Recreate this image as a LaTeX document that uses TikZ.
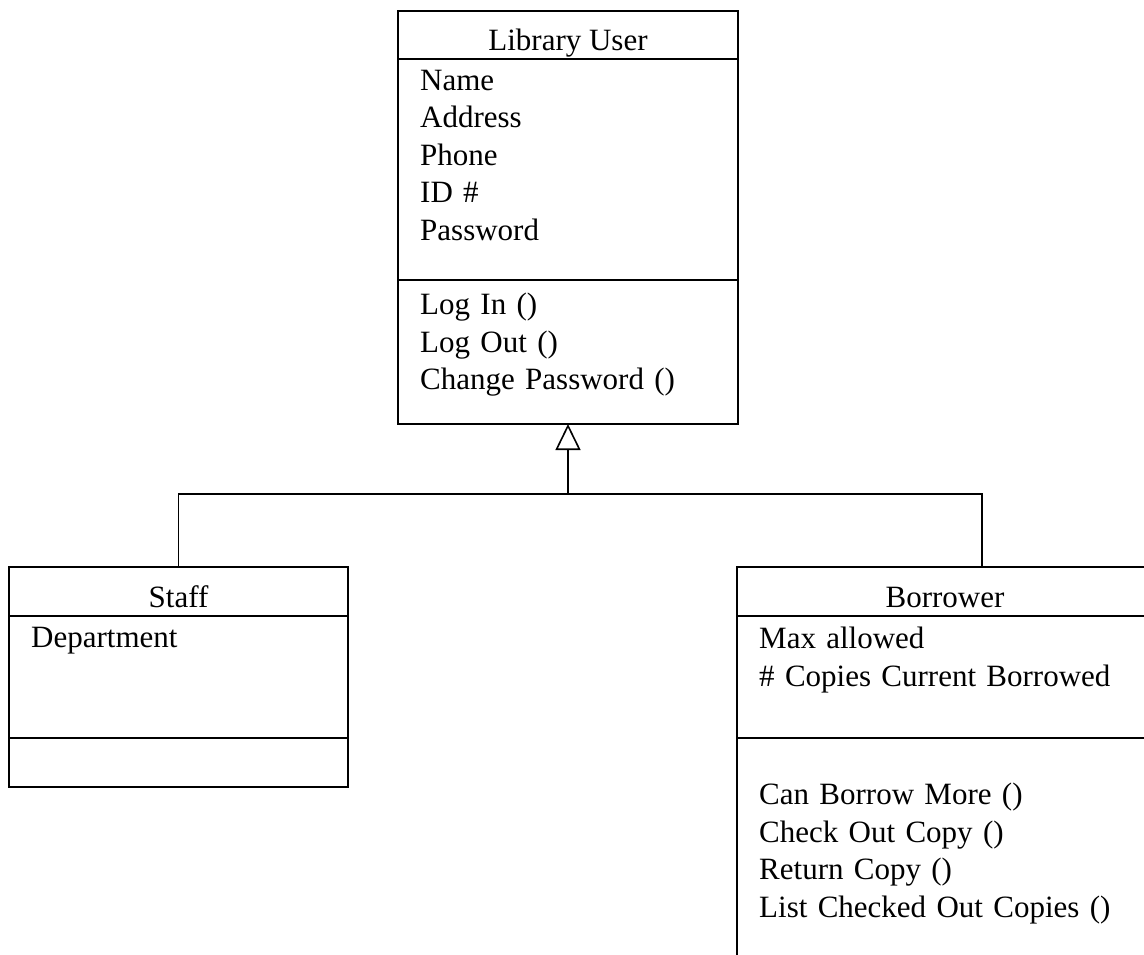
\documentclass[tikz,border=0pt]{standalone}
\usepackage{fontspec}
\setmainfont{Liberation Serif}
\usepackage{tikz}
\usetikzlibrary{positioning, arrows.meta}
\tikzset{
  >=latex,
  class part/.style={draw,line width=1.6pt,rectangle,inner sep=0,outer sep=0},
  class title/.style={class part,text height=32pt,text depth=0pt},
  class list/.style={anchor=north west,inner sep=0,align=left,text width=400pt},
  connect/.style={line width=1.3pt},
  connect arrow/.style={-{Triangle[open,length=26pt,width=25pt,line width=1.6pt]},line width=1.3pt}
}

\begin{document}
\begin{tikzpicture}[x=1pt, y=-1pt, every node/.style={font=\fontsize{31}{37.5}\selectfont}, node distance=0pt]
  \useasboundingbox (0,0) rectangle (1144,955);
  \clip (0,0) rectangle (1144,955);

  % Library User
  \node[class title, minimum width=340pt, minimum height=48pt] (user title) at (568,35) {Library User};
  \node[class part, minimum width=340pt, minimum height=221pt, below=of user title] (user attr) {};
  \node[class part, minimum width=340pt, minimum height=144pt, below=of user attr] (user ops) {};
  \node[class list] (user attr list) at ([shift={(22,11)}]user attr.north west)
    {Name\\Address\\Phone\\ID \#\\Password};
  \node[class list] (user ops list) at ([shift={(22,13)}]user ops.north west)
    {Log In ()\\Log Out ()\\Change Password ()};

  % Staff
  \node[class title, minimum width=339pt, minimum height=49pt] (staff title) at (178.5,591.5) {Staff};
  \node[class part, minimum width=339pt, minimum height=122pt, below=of staff title] (staff attr) {};
  \node[class part, minimum width=339pt, minimum height=49pt, below=of staff attr] (staff ops) {};
  \node[class list] (staff attr list) at ([shift={(22,11)}]staff attr.north west) {Department};

  % Borrower
  \node[class title, minimum width=416pt, minimum height=49pt] (borrower title) at (945,591.5) {Borrower};
  \node[class part, minimum width=416pt, minimum height=122pt, below=of borrower title] (borrower attr) {};
  \node[class part, minimum width=416pt, minimum height=260pt, below=of borrower attr] (borrower ops) {};
  \node[class list] (borrower attr list) at ([shift={(22,11)}]borrower attr.north west)
    {Max allowed\\\# Copies Current Borrowed};
  \node[class list] (borrower ops list) at ([shift={(22,45)}]borrower ops.north west)
    {Can Borrow More ()\\Check Out Copy ()\\Return Copy ()\\List Checked Out Copies ()};

  % Generalization
  \coordinate (split) at ([yshift=-70pt]user ops.south);
  \draw[connect arrow] (split) -- (user ops.south);
  \draw[connect] (staff title.north) |- (split) -| ([xshift=37pt]borrower title.north);

\end{tikzpicture}
\end{document}
